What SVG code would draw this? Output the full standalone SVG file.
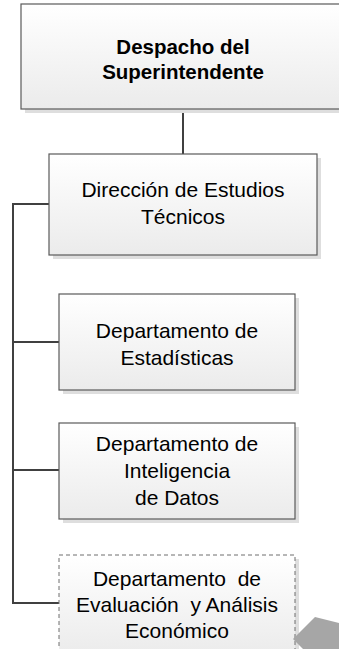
<svg xmlns="http://www.w3.org/2000/svg" width="339" height="649" viewBox="0 0 339 649">
<defs>
<linearGradient id="g" x1="0" y1="0" x2="0" y2="1">
<stop offset="0" stop-color="#ffffff"/>
<stop offset="1" stop-color="#ebebeb"/>
</linearGradient>
</defs>
<style>
.sh{fill:#dedede;}
.box{fill:url(#g);stroke:#5a5a5a;stroke-width:1.2;}
.dash{fill:url(#g);stroke:#6e6e6e;stroke-width:1;stroke-dasharray:4,3;}
.t{font-family:"Liberation Sans",Arial,sans-serif;font-size:21px;fill:#000;text-anchor:middle;}
.b{font-weight:bold;font-size:20.5px;}
.c{fill:none;stroke:#404040;stroke-width:2;}
</style>
<g id="connectors">
<path class="c" d="M183,109 V154"/>
<path class="c" d="M49,204 H13 V603 H59"/>
<path class="c" d="M13,342 H59"/>
<path class="c" d="M13,470 H59"/>
</g>
<g id="n1">
<rect class="sh" x="25" y="8" width="330" height="105"/>
<rect class="box" x="21" y="4" width="330" height="105"/>
<text class="t b" x="183" y="54">Despacho del</text>
<text class="t b" x="183" y="79">Superintendente</text>
</g>
<g id="n2">
<rect class="sh" x="53" y="158" width="268" height="101"/>
<rect class="box" x="49" y="154" width="268" height="101"/>
<text class="t" x="183" y="197">Dirección de Estudios</text>
<text class="t" x="183" y="224">Técnicos</text>
</g>
<g id="n3">
<rect class="sh" x="63" y="298" width="236" height="96"/>
<rect class="box" x="59" y="294" width="236" height="96"/>
<text class="t" x="177" y="338">Departamento de</text>
<text class="t" x="177" y="365">Estadísticas</text>
</g>
<g id="n4">
<rect class="sh" x="63" y="427" width="236" height="96"/>
<rect class="box" x="59" y="423" width="236" height="96"/>
<text class="t" x="177" y="451">Departamento de</text>
<text class="t" x="177" y="478">Inteligencia</text>
<text class="t" x="177" y="505">de Datos</text>
</g>
<g id="n5">
<rect class="sh" x="63" y="559" width="236" height="100"/>
<rect class="dash" x="59" y="555" width="236" height="100"/>
<text class="t" x="177" y="586" xml:space="preserve">Departamento  de</text>
<text class="t" x="177" y="612" xml:space="preserve">Evaluación  y Análisis</text>
<text class="t" x="177" y="638">Económico</text>
</g>
<polygon points="293,639 315,617 339,623 339,649 303,649" fill="#a6a6a6"/>
</svg>
